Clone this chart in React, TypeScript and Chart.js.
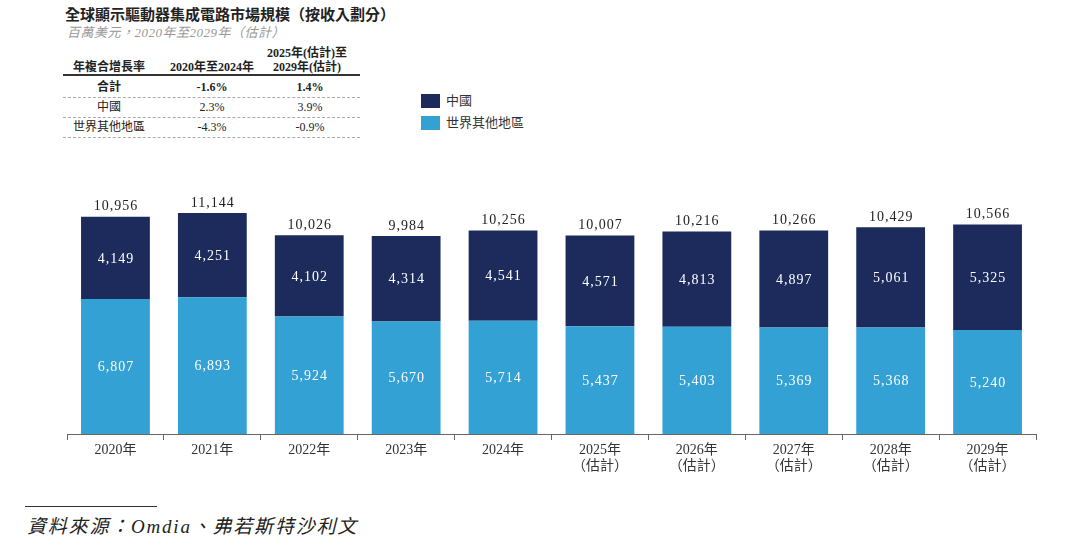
import React, { useEffect, useRef } from "react";
import { Chart, registerables } from "chart.js";

Chart.register(...registerables);

const categories: (string | string[])[] = [
  "2020年", "2021年", "2022年", "2023年", "2024年",
  ["2025年", "（估計）"], ["2026年", "（估計）"], ["2027年", "（估計）"],
  ["2028年", "（估計）"], ["2029年", "（估計）"],
];
const chinaValues = [4149, 4251, 4102, 4314, 4541, 4571, 4813, 4897, 5061, 5325];
const restValues = [6807, 6893, 5924, 5670, 5714, 5437, 5403, 5369, 5368, 5240];
const totalValues = [10956, 11144, 10026, 9984, 10256, 10007, 10216, 10266, 10429, 10566];

const cagrRows = [
  { name: "合計", a: "-1.6%", b: "1.4%", bold: true },
  { name: "中國", a: "2.3%", b: "3.9%", bold: false },
  { name: "世界其他地區", a: "-4.3%", b: "-0.9%", bold: false },
];

const DARK = "#1c2b5c";
const LIGHT = "#34a1d4";
const SERIF = "'Liberation Serif', 'Noto Sans CJK TC', serif";

const fmt = (v: number) => v.toLocaleString("en-US");

const labelPlugin = {
  id: "barLabels",
  afterDatasetsDraw(chart: any) {
    const ctx = chart.ctx;
    ctx.save();
    ctx.font = `14px ${SERIF}`;
    ctx.textAlign = "center";
    try { ctx.letterSpacing = "1px"; } catch (e) { /* ignore */ }
    chart.data.datasets.forEach((ds: any, i: number) => {
      const meta = chart.getDatasetMeta(i);
      meta.data.forEach((bar: any, j: number) => {
        const p = bar.getProps(["x", "y", "base"], true);
        ctx.fillStyle = "#ffffff";
        ctx.textBaseline = "middle";
        ctx.fillText(fmt(ds.data[j]), p.x + 0.5, (p.y + p.base) / 2 + 1);
      });
    });
    const topMeta = chart.getDatasetMeta(chart.data.datasets.length - 1);
    topMeta.data.forEach((bar: any, j: number) => {
      const p = bar.getProps(["x", "y"], true);
      ctx.fillStyle = "#222222";
      ctx.textBaseline = "bottom";
      ctx.fillText(fmt(totalValues[j]), p.x + 0.5, p.y - 3);
    });
    ctx.restore();
  },
};

const abs = (s: React.CSSProperties): React.CSSProperties => ({ position: "absolute", ...s });

export default function App() {
  const ref = useRef<HTMLCanvasElement | null>(null);
  useEffect(() => {
    if (!ref.current) return;
    const chart = new Chart(ref.current, {
      type: "bar",
      data: {
        labels: categories as any,
        datasets: [
          { label: "世界其他地區", data: restValues, backgroundColor: LIGHT, barPercentage: 0.71, categoryPercentage: 1 },
          { label: "中國", data: chinaValues, backgroundColor: DARK, barPercentage: 0.71, categoryPercentage: 1 },
        ],
      },
      options: {
        animation: false,
        responsive: true,
        maintainAspectRatio: false,
        layout: { padding: { left: 67, right: 44, top: 16, bottom: 0 } },
        plugins: { legend: { display: false }, tooltip: { enabled: false } },
        scales: {
          x: {
            stacked: true,
            afterFit: (scale: any) => { scale.height = 56; },
            grid: { display: true, drawOnChartArea: false, drawTicks: true, tickLength: 6, color: "#666" },
            border: { display: true, color: "#666", width: 1 },
            ticks: { color: "#333", padding: 2, font: { family: SERIF, size: 14, lineHeight: 1.15 }, maxRotation: 0, autoSkip: false },
          },
          y: { stacked: true, display: false, min: 0, max: 12000 },
        },
      },
      plugins: [labelPlugin],
    });
    return () => chart.destroy();
  }, []);

  const thStyle: React.CSSProperties = { fontWeight: "bold", fontSize: 12, color: "#222", textAlign: "center", lineHeight: "14px" };
  const cell = (x: number, y: number, text: string, bold: boolean) => (
    <div style={abs({ left: x - 70, top: y - 8, width: 140, textAlign: "center", fontSize: 12, lineHeight: "16px", fontWeight: bold ? "bold" : "normal", color: "#222" })}>{text}</div>
  );

  return (
    <div style={{ position: "fixed", left: 0, top: 0, width: 1080, height: 546, background: "#fff", fontFamily: SERIF, overflow: "hidden" }}>
      <div style={abs({ left: 65, top: 5, fontSize: 15, fontWeight: "bold", color: "#222", whiteSpace: "nowrap", lineHeight: "20px" })}>
        全球顯示驅動器集成電路市場規模（按收入劃分）
      </div>
      <div style={abs({ left: 67, top: 23, fontSize: 13, fontStyle: "italic", color: "#999", whiteSpace: "nowrap", lineHeight: "20px", letterSpacing: 0.5 })}>
        百萬美元，2020年至2029年（估計）
      </div>

      <div style={abs({ ...thStyle, left: 39, top: 60, width: 140 })}>年複合增長率</div>
      <div style={abs({ ...thStyle, left: 142, top: 60, width: 140 })}>2020年至2024年</div>
      <div style={abs({ ...thStyle, left: 237, top: 46, width: 140 })}>2025年(估計)至<br />2029年(估計)</div>
      <div style={abs({ left: 63, top: 74, width: 297, height: 2, background: "#333" })} />
      {cagrRows.map((r, i) => (
        <React.Fragment key={r.name}>
          {cell(109, 87 + i * 20, r.name, r.bold)}
          {cell(212, 87 + i * 20, r.a, r.bold)}
          {cell(310, 87 + i * 20, r.b, r.bold)}
          <div style={abs({ left: 63, top: 97 + i * 20, width: 297, height: 0, borderTop: "1px dashed #aaa" })} />
        </React.Fragment>
      ))}

      <div style={abs({ left: 421, top: 94, width: 19, height: 14, background: DARK })} />
      <div style={abs({ left: 446, top: 92, fontSize: 13, color: "#333", lineHeight: "18px" })}>中國</div>
      <div style={abs({ left: 421, top: 116, width: 19, height: 14, background: LIGHT })} />
      <div style={abs({ left: 446, top: 114, fontSize: 13, color: "#333", lineHeight: "18px" })}>世界其他地區</div>

      <div style={abs({ left: 0, top: 180, width: 1080, height: 310 })}>
        <canvas ref={ref} />
      </div>

      <div style={abs({ left: 25, top: 506, width: 132, height: 1, background: "#333" })} />
      <div style={abs({ left: 27, top: 514, fontSize: 19, fontStyle: "italic", color: "#222", letterSpacing: 1.8, whiteSpace: "nowrap", lineHeight: "26px" })}>
        資料來源：Omdia、弗若斯特沙利文
      </div>
    </div>
  );
}
